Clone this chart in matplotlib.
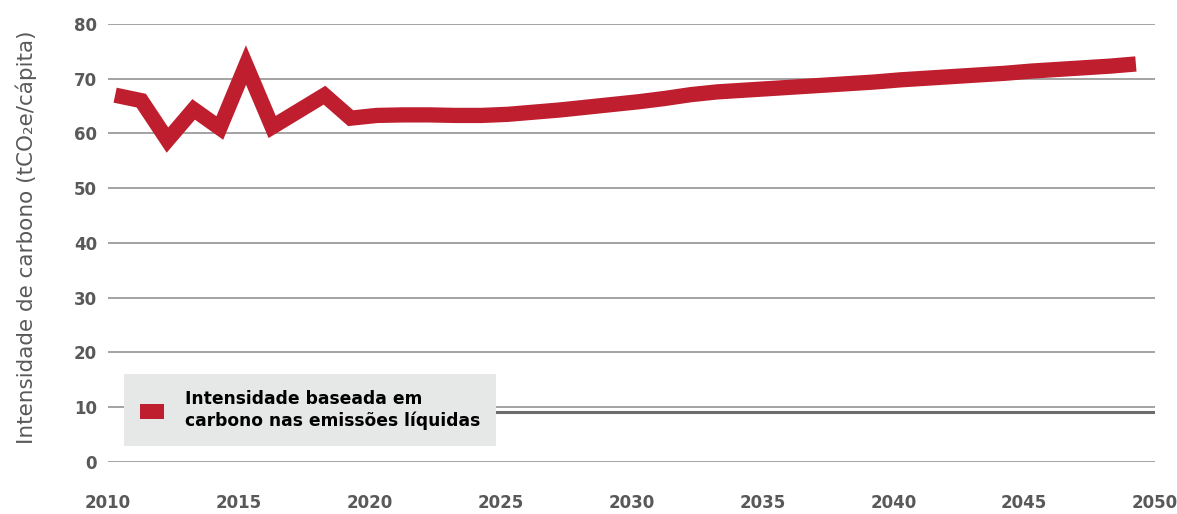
import numpy as np
import matplotlib
matplotlib.use('Agg')
from matplotlib import pyplot as plt
from matplotlib.patches import Patch

# ----------------------------- donnees
years = np.arange(2010, 2050)
intensity = [67.0, 66.0, 58.8, 64.4, 61.0, 72.5, 61.2, 64.1, 67.0, 62.8,
             63.3, 63.4, 63.4, 63.3, 63.3, 63.5, 63.9, 64.3, 64.8, 65.3,
             65.8, 66.4, 67.1, 67.6, 67.9, 68.2, 68.5, 68.8, 69.1, 69.4,
             69.8, 70.1, 70.4, 70.7, 71.0, 71.4, 71.7, 72.0, 72.3, 72.7]
target_level = 9.2
target_start = 2024.8
x_ticks = list(range(2010, 2051, 5))
y_ticks = list(range(0, 81, 10))
series_label = 'Intensidade baseada em\ncarbono nas emissões líquidas'
y_label = 'Intensidade de carbono (tCO₂e/cápita)'

red = '#BE1E2D'
grey_txt = '#595959'

fig = plt.figure(figsize=(11.77, 5.14), dpi=100)
ax = fig.add_axes([0.0918, 0.1012, 0.8895, 0.8521])

# grille
for v in y_ticks:
    ax.axhline(v, color='#8a8a8a', lw=1.1, zorder=1)
ax.hlines(target_level, target_start, 2050, color='#6d6d6d', lw=2.2, zorder=2)

# serie (les points sont un peu decales a droite de la graduation)
ax.plot(years + 0.27, intensity, color=red, lw=11, solid_joinstyle='miter',
        solid_capstyle='butt', zorder=3)

ax.set_xlim(2010, 2050)
ax.set_ylim(0, 80)
ax.set_xticks(x_ticks)
ax.set_yticks(y_ticks)
ax.tick_params(length=0, labelsize=12, labelcolor=grey_txt)
ax.tick_params(axis='x', pad=23)
ax.tick_params(axis='y', pad=8)
for t in ax.get_xticklabels() + ax.get_yticklabels():
    t.set_fontweight('bold')
for s in ax.spines.values():
    s.set_visible(False)

fig.text(0.022, 0.539, y_label, rotation=90, va='center', ha='center',
         fontsize=15.5, color=grey_txt)

leg = ax.legend(handles=[Patch(facecolor=red, edgecolor='none')],
                labels=[series_label], loc='lower left',
                bbox_to_anchor=(0.0153, 0.0365), frameon=True, fancybox=False,
                facecolor='#E6E7E7', edgecolor='none', framealpha=1,
                prop={'size': 12.3, 'weight': 'bold'}, handlelength=1.4,
                handleheight=0.95, handletextpad=1.2, borderpad=0.95,
                borderaxespad=0, labelspacing=0.2)
leg.set_zorder(10)
for t in leg.get_texts():
    t.set_linespacing(1.2)

fig.savefig('out.png', dpi=100)
